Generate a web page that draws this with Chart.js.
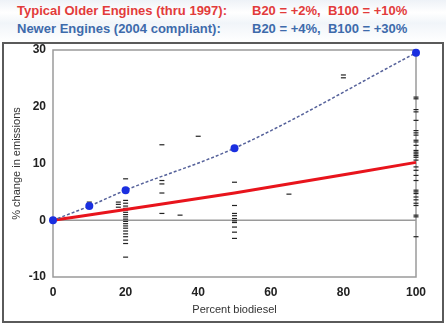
<!DOCTYPE html>
<html><head><meta charset="utf-8">
<script src="https://cdn.jsdelivr.net/npm/chart.js@4/dist/chart.umd.min.js"></script>
<style>
html,body{margin:0;padding:0;background:#fff;}
#wrap{position:relative;width:446px;height:325px;overflow:hidden;font-family:"Liberation Sans",Arial,sans-serif;}
#hdr{position:absolute;left:0;top:0;width:446px;height:42px;background:linear-gradient(#eef2f7,#fff 30%,#f1f5f9 55%,#fff 100%);}
.t{position:absolute;font-weight:bold;font-size:13px;white-space:pre;}
#box{position:absolute;left:2px;top:42px;width:438px;height:277px;border:2px solid #5a5a5a;}
canvas{position:absolute;left:0;top:0;}
</style></head>
<body><div id="wrap">
<div id="hdr">
<div class="t" style="left:17px;top:3px;color:#e23b3b">Typical Older Engines (thru 1997):</div>
<div class="t" style="left:252px;top:3px;color:#e23b3b">B20 = +2%,  B100 = +10%</div>
<div class="t" style="left:17px;top:21px;color:#3d6aab">Newer Engines (2004 compliant):</div>
<div class="t" style="left:252px;top:21px;color:#3d6aab">B20 = +4%,  B100 = +30%</div>
</div>
<div id="box"></div>
<canvas id="c" width="446" height="325"></canvas>
</div>
<script>
// Tick values
const xTicks = [0, 20, 40, 60, 80, 100];
const yTicks = [-10, 0, 10, 20, 30];
// Older engines trend (red)
const oldX = [0, 20, 50, 100];
const oldY = [0, 1.9, 4.8, 10.2];
// Newer engines trend (blue)
const newX = [0, 10, 20, 50, 100];
const newY = [0, 2.5, 5.3, 12.7, 29.5];
// Individual test observations
const obsX = [
  10,10,10,
  18,18,18,
  20,20,20,20,20,20,20,20,20,20,20,20,20,20,20,20,20,20,20,20,
  30,30,30,30,30, 35, 40,
  50,50,50,50,50,50,50,50,50,50,50,
  65, 80,80,
  100,100,100,100,100,100,100,100,100,100,100,100,100,100,100,
  100,100,100,100,100,100,100,100,100,100,100,100,100,100,100,100
];
const obsY = [
  3.2,2.9,2.6,
  3.2,2.8,2.3,
  7.3,3.5,3.0,2.5,2.1,1.8,1.4,1.0,0.6,0.2,-0.2,-0.6,-1.0,-1.4,-1.9,-2.4,-2.9,-3.5,-4.1,-6.5,
  13.3,7.0,6.4,4.8,1.2, 0.9, 14.8,
  6.7,4.8,2.6,1.2,0.8,0.3,-0.1,-0.4,-1.2,-2.1,-3.2,
  4.6, 25.6,25.1,
  21.7,21.4,19.5,19.1,17.6,15.8,15.4,15.0,14.1,13.8,13.2,12.3,11.7,11.1,10.6,
  12.0,11.4,9.4,8.8,7.9,7.0,5.3,5.0,4.7,4.1,3.6,3.0,2.6,0.9,0.6,-2.9
];

const pts = (xs, ys) => xs.map((x, i) => ({x, y: ys[i]}));

const frame = {
  id: 'frame',
  beforeDatasetsDraw(chart) {
    const {ctx, chartArea: a, scales} = chart;
    ctx.save();
    ctx.strokeStyle = '#9a9a9a';
    ctx.lineWidth = 1.5;
    ctx.strokeRect(a.left, a.top, a.right - a.left, a.bottom - a.top);
    const y0 = scales.y.getPixelForValue(0);
    ctx.beginPath();
    ctx.moveTo(a.left, y0); ctx.lineTo(a.right, y0);
    ctx.stroke();
    ctx.restore();
  }
};

new Chart(document.getElementById('c'), {
  type: 'scatter',
  data: {
    datasets: [
      {
        data: pts(newX, newY), showLine: true, cubicInterpolationMode: 'monotone',
        borderColor: '#55619a', borderWidth: 1.5, borderDash: [3, 2], clip: false,
        pointRadius: 4, pointBackgroundColor: '#1a2fe0', pointBorderWidth: 0, order: 0
      },
      {
        data: pts(oldX, oldY), showLine: true, cubicInterpolationMode: 'monotone',
        borderColor: '#e8141c', borderWidth: 3, pointRadius: 0, order: 1, clip: false
      },
      {
        data: pts(obsX, obsY), showLine: false, pointStyle: 'line', clip: false,
        pointRadius: 2.5, borderColor: '#222', borderWidth: 1.2, order: 2
      }
    ]
  },
  options: {
    responsive: false, animation: false,
    plugins: {legend: {display: false}, tooltip: {enabled: false}},
    layout: {padding: {top: 50, right: 30, left: 0, bottom: 0}},
    scales: {
      x: {
        type: 'linear', min: 0, max: 100,
        afterBuildTicks: s => { s.ticks = xTicks.map(v => ({value: v})); },
        afterFit: s => { s.height = 48; },
        grid: {display: false, drawTicks: false},
        border: {display: false},
        ticks: {padding: 8, color: '#222', font: {family: 'Liberation Sans, Arial', size: 12, weight: 'bold'}},
        title: {display: true, text: 'Percent biodiesel', color: '#333',
          font: {family: 'Liberation Sans, Arial', size: 11}, padding: {top: 4, bottom: 8}}
      },
      y: {
        type: 'linear', min: -10, max: 30,
        afterBuildTicks: s => { s.ticks = yTicks.map(v => ({value: v})); },
        afterFit: s => { s.width = 53; },
        grid: {display: false, drawTicks: false},
        border: {display: false},
        ticks: {padding: 7, color: '#222', font: {family: 'Liberation Sans, Arial', size: 12, weight: 'bold'}},
        title: {display: true, text: '% change in emissions', color: '#333',
          font: {family: 'Liberation Sans, Arial', size: 11}, padding: {top: 10, bottom: 0}}
      }
    }
  },
  plugins: [frame]
});
</script>
</body></html>
